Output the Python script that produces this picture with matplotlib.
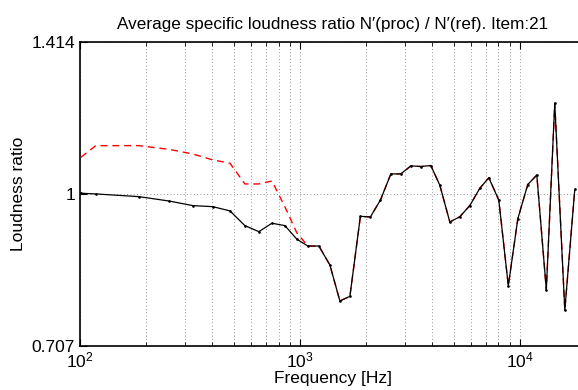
import matplotlib
matplotlib.use("Agg")
import matplotlib.pyplot as plt
from matplotlib.ticker import FixedLocator, LogLocator, NullFormatter, NullLocator

plt.rcParams['font.family'] = ['Liberation Sans', 'DejaVu Sans']
plt.rcParams['mathtext.fontset'] = 'custom'
plt.rcParams['mathtext.rm'] = 'Liberation Sans'
plt.rcParams['mathtext.it'] = 'Liberation Sans'

freq = [101, 118, 185, 254, 326, 402, 481, 562, 651, 746, 855, 969,
        1088, 1220, 1369, 1520, 1688, 1884, 2092, 2325, 2592, 2878, 3195,
        3548, 3939, 4329, 4806, 5337, 5926, 6579, 7230, 8027, 8866, 9794,
        10870, 11950, 13200, 14420, 16020, 17783]

ratio_ref = [1.0016, 1.000, 0.9939, 0.984, 0.9737, 0.9714, 0.962, 0.9303,
             0.9176, 0.9354, 0.9303, 0.9018, 0.888, 0.888, 0.8504, 0.7835,
             0.7917, 0.9502, 0.9489, 0.9864, 1.0467, 1.0467, 1.066, 1.0645,
             1.0669, 1.020, 0.938, 0.9493, 0.9739, 1.013, 1.0376, 0.986,
             0.811, 0.945, 1.0217, 1.044, 0.8035, 1.2297, 0.7671, 1.0103]

ratio_alt = [1.0872, 1.1164, 1.1164, 1.107, 1.0954, 1.0806, 1.0725, 1.023,
             1.023, 1.030, 0.9708, 0.9148, 0.888, 0.888, 0.8504, 0.7835,
             0.7917, 0.9502, 0.9489, 0.9864, 1.0467, 1.0467, 1.066, 1.0645,
             1.0669, 1.020, 0.938, 0.9493, 0.9739, 1.013, 1.0376, 0.986,
             0.811, 0.945, 1.0217, 1.044, 0.8035, 1.2297, 0.7671, 1.0103]

yticks = [0.707, 1.0, 1.414]
ytick_labels = ['0.707', '1', '1.414']

fig = plt.figure(figsize=(5.78, 3.90), dpi=100)
ax = fig.add_axes([80/578, 44/390, (586-80)/578, (346-42)/390])

ax.plot(freq, ratio_alt, color='red', lw=1.0, ls=(0, (5, 3.5)), zorder=3)
ax.plot(freq, ratio_ref, color='black', lw=0.9, marker='.', ms=1.8, zorder=4)

ax.set_xscale('log')
ax.set_yscale('log', base=2)
ax.set_xlim(100, 20000)
ax.set_ylim(0.707, 1.414)

ax.yaxis.set_major_locator(FixedLocator(yticks))
ax.set_yticklabels(ytick_labels)
ax.yaxis.set_minor_locator(NullLocator())
ax.yaxis.set_minor_formatter(NullFormatter())
ax.xaxis.set_minor_locator(LogLocator(base=10, subs=range(2, 10)))
ax.xaxis.set_minor_formatter(NullFormatter())

ax.grid(True, which='both', axis='x', ls=(0, (1, 3)), color='#777777', lw=0.6)
ax.grid(True, which='major', axis='y', ls=(0, (1, 3)), color='#777777', lw=0.6)

ax.tick_params(which='both', direction='in', top=True, right=False, labelsize=12.5)
ax.tick_params(which='major', length=5)
ax.tick_params(which='minor', length=3)
ax.tick_params(axis='x', pad=3)
for s in ax.spines.values():
    s.set_linewidth(1.2)

ax.set_title("Average specific loudness ratio N\u2032(proc) / N\u2032(ref). Item:21",
             fontsize=12.3, pad=9)
ax.set_xlabel("Frequency [Hz]", fontsize=12.5, labelpad=1)
ax.set_ylabel("Loudness ratio", fontsize=12.5, labelpad=4)

fig.savefig("out.png", dpi=100)
